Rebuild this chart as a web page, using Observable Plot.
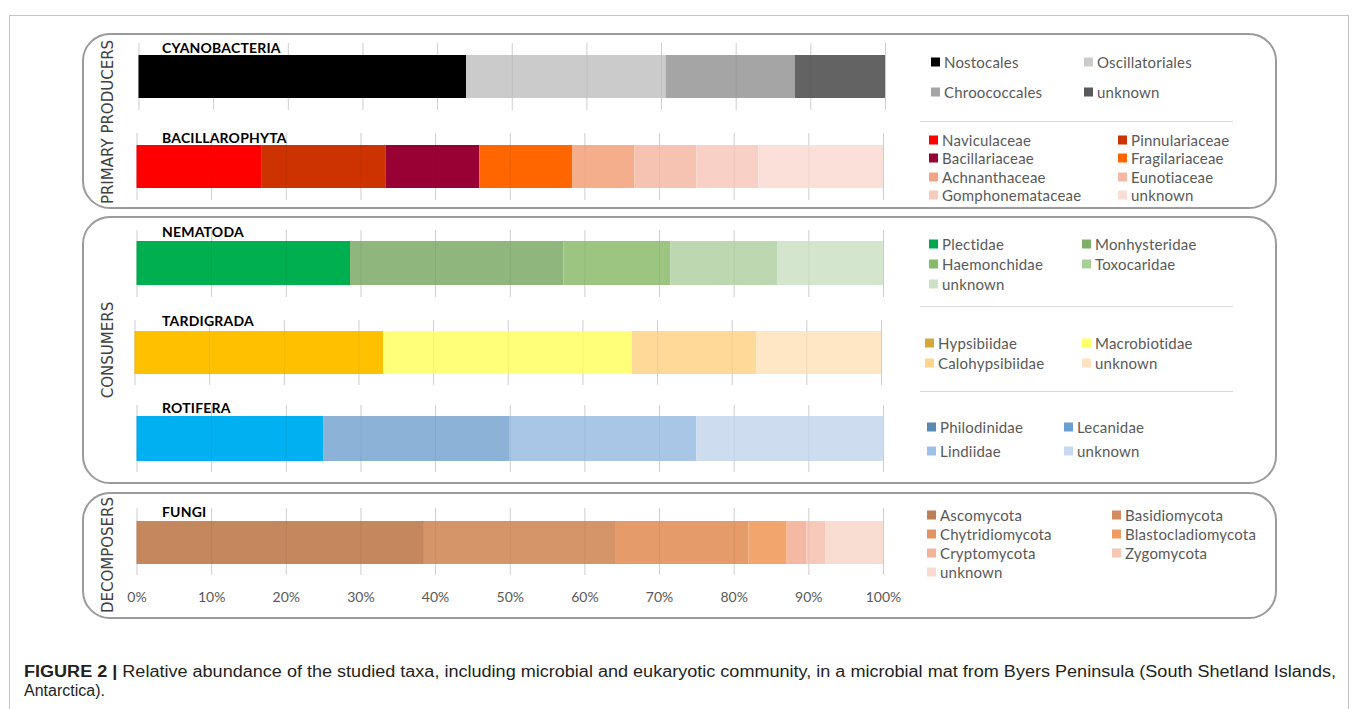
<!DOCTYPE html>
<html><head><meta charset="utf-8">
<script src="https://cdn.jsdelivr.net/npm/d3@7"></script>
<script src="https://cdn.jsdelivr.net/npm/@observablehq/plot@0.6"></script>
<style>
html,body{margin:0;padding:0;background:#fff;}
#fig{position:relative;width:1357px;height:709px;overflow:hidden;font-family:Lato,"Open Sans",sans-serif;}
.frame{position:absolute;left:9px;top:15px;width:1340px;height:720px;border:1px solid #c4c4c4;box-sizing:border-box;}
.panel{position:absolute;border:2.5px solid #9b9b9b;border-radius:28px;box-sizing:border-box;}
.side{position:absolute;font-family:"DejaVu Sans",sans-serif;font-size:15px;color:#404040;transform:translate(-50%,-50%) rotate(-90deg);white-space:nowrap;}
.title{position:absolute;font-family:Lato,sans-serif;font-weight:bold;font-size:14px;color:#000;transform:translateY(-50%);white-space:nowrap;line-height:1;letter-spacing:0.2px;}
.leg{position:absolute;display:flex;align-items:center;font-size:15px;color:#595959;white-space:nowrap;transform:translateY(-50%);line-height:1;letter-spacing:0.2px;}
.leg i{display:inline-block;width:9px;height:9px;margin-right:4px;}
.sep{position:absolute;height:1px;background:#d9d9d9;}
.chart{position:absolute;}
</style>
</head><body>
<div id="fig"></div>
<script>
// ---------- data ----------
const tickValues = [0, 10, 20, 30, 40, 50, 60, 70, 80, 90, 100];

const cyanoNames = ["Nostocales", "Oscillatoriales", "Chroococcales", "unknown"];
const cyanoValues = [43.9, 26.7, 17.3, 12.1];

const bacilNames = ["Naviculaceae", "Pinnulariaceae", "Bacillariaceae", "Fragilariaceae", "Achnanthaceae", "Eunotiaceae", "Gomphonemataceae", "unknown"];
const bacilValues = [16.7, 16.7, 12.5, 12.5, 8.3, 8.3, 8.3, 16.7];

const nemaNames = ["Plectidae", "Monhysteridae", "Haemonchidae", "Toxocaridae", "unknown"];
const nemaValues = [28.6, 28.6, 14.3, 14.3, 14.2];

const tardNames = ["Hypsibiidae", "Macrobiotidae", "Calohypsibiidae", "unknown"];
const tardValues = [33.3, 33.3, 16.7, 16.7];

const rotiNames = ["Philodinidae", "Lecanidae", "Lindiidae", "unknown"];
const rotiValues = [25, 25, 25, 25];

const fungiNames = ["Ascomycota", "Basidiomycota", "Chytridiomycota", "Blastocladiomycota", "Cryptomycota", "Zygomycota", "unknown"];
const fungiValues = [38.5, 25.6, 17.9, 5.1, 2.6, 2.6, 7.7];

const groupTitles = ["CYANOBACTERIA", "BACILLAROPHYTA", "NEMATODA", "TARDIGRADA", "ROTIFERA", "FUNGI"];
const sideLabels = ["PRIMARY PRODUCERS", "CONSUMERS", "DECOMPOSERS"];
const captionLead = "FIGURE 2 | ";
const captionLine1 = "Relative abundance of the studied taxa, including microbial and eukaryotic community, in a microbial mat from Byers Peninsula (South Shetland Islands,";
const captionLine2 = "Antarctica).";

// ---------- styles / layout ----------
const groups = [
  {names: cyanoNames, values: cyanoValues,
   bar: ["#000000", "#cbcbcb", "#a5a5a5", "#636363"],
   leg: ["#000000", "#cbcbcb", "#a5a5a5", "#595959"],
   grid: [43, 55, 98, 110], shift: 2, titleY: 48,
   legCols: [931, 1084], legRows: [62, 92]},
  {names: bacilNames, values: bacilValues,
   bar: ["#ff0000", "#cc3300", "#990033", "#ff6600", "#f4ae8c", "#f6c3b2", "#f8d0c6", "#fae0d8"],
   leg: ["#ff0000", "#cc3300", "#990033", "#ff6600", "#f2a584", "#f3b9a6", "#f6cbbd", "#f9dcd3"],
   grid: [133, 145, 188, 200], shift: 0, titleY: 138,
   legCols: [929, 1118], legRows: [140, 158, 177, 195]},
  {names: nemaNames, values: nemaValues,
   bar: ["#00b050", "#8fb67c", "#9bc581", "#bdd7b1", "#d4e5cd"],
   leg: ["#00a650", "#7fae6a", "#86bb6b", "#a8cf98", "#cce1c4"],
   grid: [230, 241, 285, 297], shift: 0, titleY: 232,
   legCols: [929, 1082], legRows: [244, 264, 284]},
  {names: tardNames, values: tardValues,
   bar: ["#ffc000", "#ffff79", "#ffd997", "#ffe6c5"],
   leg: ["#d6a73b", "#ffff66", "#ffd58c", "#ffe2c0"],
   grid: [320, 331, 374, 385], shift: -2, titleY: 321,
   legCols: [925, 1082], legRows: [343, 363]},
  {names: rotiNames, values: rotiValues,
   bar: ["#00b0f0", "#8cb2d8", "#aac6e6", "#cddcee"],
   leg: ["#5c88b4", "#6a9fd1", "#9dc0e6", "#c8d8ef"],
   grid: [405, 416, 461, 472], shift: 0, titleY: 408,
   legCols: [927, 1064], legRows: [427, 451]},
  {names: fungiNames, values: fungiValues,
   bar: ["#c4875e", "#d69568", "#e59c6a", "#f2a66e", "#f3b9a2", "#f6c9bb", "#f9ddd3"],
   leg: ["#bd7d55", "#d28c60", "#e39462", "#ef9c62", "#f2b39b", "#f5c6b6", "#f8dad0"],
   grid: [508, 521, 564, 575], shift: 0, titleY: 512, axis: true,
   legCols: [927, 1112], legRows: [515, 534, 553, 572]}
];
const panels = [[82, 33, 1277, 209], [82, 216, 1277, 484], [82, 492, 1277, 619]];
const sideY = [122, 350, 555];
const seps = [121, 306, 391];

const fig = document.getElementById("fig");
function add(cls, css, html) {
  const d = document.createElement("div");
  d.className = cls;
  Object.assign(d.style, css);
  if (html != null) d.innerHTML = html;
  fig.appendChild(d);
  return d;
}

add("frame", {});
panels.forEach(([x0, y0, x1, y1]) => add("panel", {left: x0 + "px", top: y0 + "px", width: (x1 - x0) + "px", height: (y1 - y0) + "px"}));
sideLabels.forEach((s, i) => add("side", {left: "108px", top: sideY[i] + "px"}, s));
seps.forEach(y => add("sep", {left: "920px", top: y + "px", width: "313px"}));

const chartLeft = 100, chartWidth = 800, x0px = 136.5, x1px = 883;
groups.forEach((g, gi) => {
  const [gTop, bTop, bBot, gBot] = g.grid;
  const axisH = g.axis ? 40 : 0;
  const data = g.names.map((n, i) => ({name: n, value: g.values[i]}));
  const chart = Plot.plot({
    width: chartWidth,
    height: gBot - gTop + axisH,
    marginLeft: x0px - chartLeft,
    marginRight: chartLeft + chartWidth - x1px,
    marginTop: 0,
    marginBottom: axisH,
    x: {domain: [0, 100], axis: null},
    color: {domain: g.names, range: g.bar},
    style: {fontFamily: "Lato, sans-serif", fontSize: "14px", color: "#595959", background: "transparent", overflow: "visible"},
    marks: [
      Plot.ruleX(tickValues, {stroke: "#d9d9d9", strokeWidth: 1}),
      Plot.barX(data, {x: "value", fill: "name", insetTop: bTop - gTop, insetBottom: gBot - bBot}),
      Plot.ruleX(tickValues, {stroke: "#000", strokeOpacity: 0.05, strokeWidth: 1}),
      g.axis ? Plot.axisX({ticks: tickValues, tickSize: 0, tickPadding: 17, tickFormat: d => d + "%", label: null, fontSize: 14}) : null
    ]
  });
  chart.classList.add("chart");
  chart.style.left = (chartLeft + g.shift) + "px";
  chart.style.top = gTop + "px";
  chart.style.position = "absolute";
  fig.appendChild(chart);

  add("title", {left: "162px", top: g.titleY + "px"}, groupTitles[gi]);

  g.names.forEach((n, i) => {
    const col = i % 2, row = Math.floor(i / 2);
    add("leg", {left: g.legCols[col] + "px", top: g.legRows[row] + "px"},
      `<i style="background:${g.leg[i]}"></i>${n}`);
  });
});

// caption
const ns = "http://www.w3.org/2000/svg";
const cap = document.createElementNS(ns, "svg");
cap.setAttribute("width", 1357); cap.setAttribute("height", 60);
Object.assign(cap.style, {position: "absolute", left: "0px", top: "650px"});
const t1 = document.createElementNS(ns, "text");
t1.setAttribute("x", 24); t1.setAttribute("y", 27);
t1.setAttribute("textLength", 1312); t1.setAttribute("lengthAdjust", "spacingAndGlyphs");
Object.assign(t1.style, {fontFamily: "'Liberation Sans', Arial, sans-serif", fontSize: "16px", fill: "#231f20"});
const ts1 = document.createElementNS(ns, "tspan"); ts1.setAttribute("font-weight", "bold"); ts1.textContent = captionLead;
const ts2 = document.createElementNS(ns, "tspan"); ts2.textContent = captionLine1;
t1.appendChild(ts1); t1.appendChild(ts2);
const t2 = document.createElementNS(ns, "text");
t2.setAttribute("x", 24); t2.setAttribute("y", 46);
Object.assign(t2.style, {fontFamily: "'Liberation Sans', Arial, sans-serif", fontSize: "16px", fill: "#231f20"});
t2.textContent = captionLine2;
cap.appendChild(t1); cap.appendChild(t2);
fig.appendChild(cap);
</script>
</body></html>
